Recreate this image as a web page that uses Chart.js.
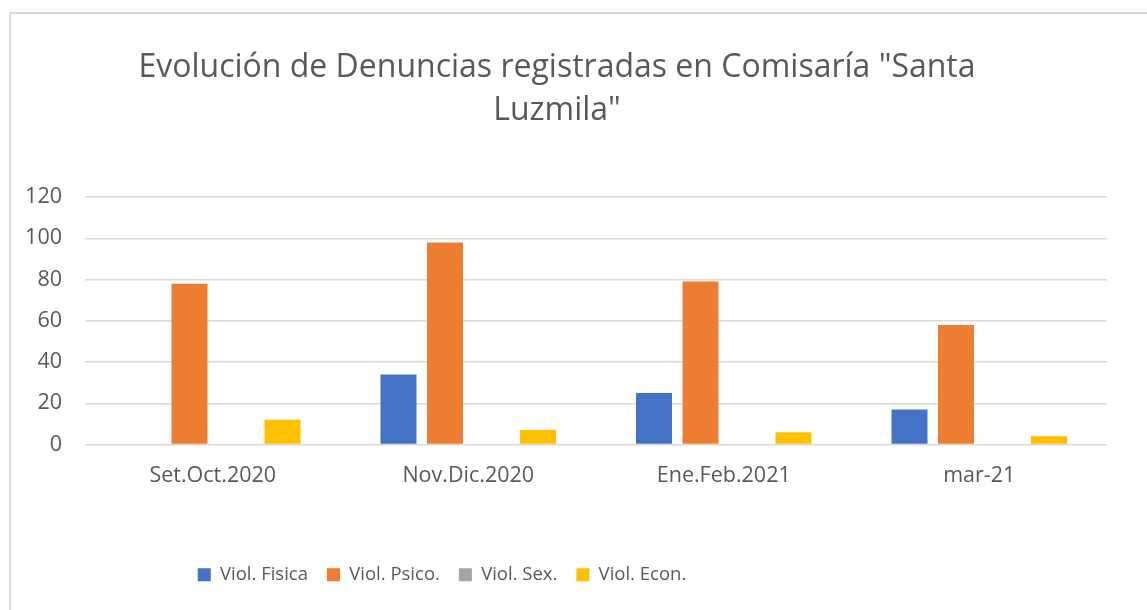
<!DOCTYPE html>
<html>
<head>
<meta charset="utf-8">
<script src="https://cdn.jsdelivr.net/npm/chart.js@4.4.1/dist/chart.umd.min.js"></script>
<style>
  html, body { margin: 0; padding: 0; background: #fff; overflow: hidden; width: 1147px; height: 610px; }
  #frame { position: absolute; left: 9px; top: 12px; width: 1200px; height: 700px; border: 2px solid #d9d9d9; box-sizing: border-box; }
  #wrap { position: absolute; left: 0; top: 0; width: 1147px; height: 610px; }
</style>
</head>
<body>
<div id="frame"></div>
<div id="wrap"><canvas id="c" width="1147" height="610"></canvas></div>
<script>
const categories = ['Set.Oct.2020', 'Nov.Dic.2020', 'Ene.Feb.2021', 'mar-21'];
const seriesNames = ['Viol. Fisica', 'Viol. Psico.', 'Viol. Sex.', 'Viol. Econ.'];
const violFisica = [0, 34, 25, 17];
const violPsico = [78, 98, 79, 58];
const violSex = [0, 0, 0, 0];
const violEcon = [12, 7, 6, 4];
const yMin = 0, yMax = 120, yStep = 20;
const titleLines = ['Evolución de Denuncias registradas en Comisaría "Santa', 'Luzmila"'];

const colors = ['#4472C4', '#ED7D31', '#A5A5A5', '#FFC000'];
const FONT = "'Open Sans', sans-serif";
const TEXT = '#595959';

const legendShift = {
  id: 'legendShift',
  afterLayout(chart) {
    const lg = chart.legend;
    if (lg) { lg.left -= 115; lg.right -= 115; }
  }
};

new Chart(document.getElementById('c'), {
  type: 'bar',
  data: {
    labels: categories,
    datasets: [violFisica, violPsico, violSex, violEcon].map((d, i) => ({
      label: seriesNames[i],
      data: d,
      backgroundColor: colors[i],
      borderWidth: 0,
      categoryPercentage: 0.728,
      barPercentage: 0.774
    }))
  },
  options: {
    responsive: false,
    animation: false,
    devicePixelRatio: 1,
    layout: { padding: { left: 7, right: 40, top: 0, bottom: 16 } },
    plugins: {
      title: {
        display: true,
        text: titleLines,
        color: TEXT,
        font: { family: FONT, size: 32, weight: 'normal', lineHeight: '43px' },
        padding: { top: 46, bottom: 65 }
      },
      legend: {
        position: 'bottom',
        labels: {
          color: TEXT,
          font: { family: FONT, size: 18.5 },
          boxWidth: 13,
          boxHeight: 13,
          padding: 19
        }
      },
      tooltip: { enabled: false }
    },
    scales: {
      x: {
        grid: { display: false, drawTicks: false },
        border: { display: false },
        ticks: { color: TEXT, font: { family: FONT, size: 21.5 }, padding: 18 },
        afterFit(s) { s.height = 102; }
      },
      y: {
        min: yMin, max: yMax,
        grid: { color: '#d9d9d9', lineWidth: 1.5, drawTicks: false },
        border: { display: false },
        ticks: { stepSize: yStep, color: TEXT, font: { family: FONT, size: 21.5 }, padding: 23 },
        afterFit(s) { s.width = 78; }
      }
    }
  },
  plugins: [legendShift]
});
</script>
</body>
</html>
